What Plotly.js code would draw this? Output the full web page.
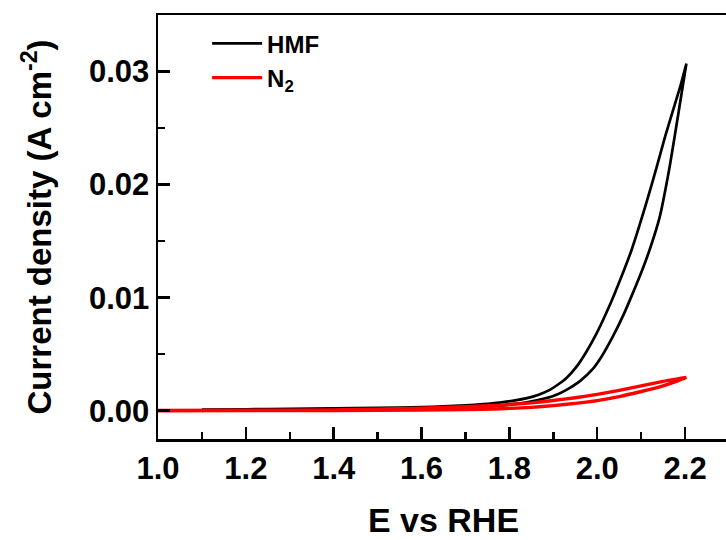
<!DOCTYPE html>
<html>
<head>
<meta charset="utf-8">
<script src="https://cdn.plot.ly/plotly-3.0.1.min.js"></script>
<style>
html,body{margin:0;padding:0;overflow:hidden;background:#fff;}
#chart{width:760px;height:540px;}
</style>
</head>
<body>
<div id="chart"></div>
<script>
// HMF cyclic voltammogram: forward (inner) branch then reverse (outer) branch
const hmfForwardE = [1.00,1.10,1.20,1.30,1.40,1.50,1.60,1.70,1.75,1.78,1.81,1.84,1.87,1.90,1.93,1.96,1.99,2.01,2.036,2.06,2.081,2.10,2.119,2.142,2.165,2.186,2.203];
const hmfForwardJ = [0.0000,0.00003,0.00006,0.00009,0.00012,0.00016,0.00022,0.0003,0.00038,0.00046,0.00058,0.00075,0.00098,0.0013,0.00185,0.0026,0.0037,0.0048,0.0066,0.0085,0.0104,0.0122,0.0142,0.0171,0.0216,0.0266,0.0307];
const hmfReverseE = [2.203,2.19,2.172,2.155,2.135,2.112,2.078,2.04,2.02,1.998,1.975,1.953,1.93,1.91,1.892,1.865,1.84,1.81,1.778,1.74,1.70,1.65,1.60,1.50,1.40,1.30,1.20,1.10];
const hmfReverseJ = [0.0307,0.0288,0.0265,0.0243,0.0215,0.0184,0.0142,0.0104,0.0086,0.0068,0.0052,0.0039,0.0029,0.0023,0.00185,0.0014,0.00112,0.0009,0.00072,0.00058,0.00047,0.00038,0.00032,0.00025,0.0002,0.00016,0.00013,0.0001];

// N2 blank cyclic voltammogram
const n2ForwardE = [1.00,1.20,1.40,1.60,1.70,1.78,1.85,1.90,1.95,2.00,2.05,2.10,2.15,2.18,2.203];
const n2ForwardJ = [0.0000,0.00001,0.00002,0.00005,0.0001,0.00018,0.0003,0.00045,0.00065,0.0009,0.00125,0.0017,0.0022,0.0026,0.00294];
const n2ReverseE = [2.203,2.18,2.15,2.10,2.05,2.00,1.95,1.90,1.85,1.78,1.70,1.60,1.50,1.40,1.20,1.00];
const n2ReverseJ = [0.00294,0.0028,0.0026,0.0022,0.0018,0.00145,0.00115,0.0009,0.0007,0.0005,0.00035,0.00022,0.00013,0.00008,0.00004,0.00002];

const seriesNames = ['HMF', 'N<sub>2</sub>'];

const hmfE = hmfForwardE.concat(hmfReverseE);
const hmfJ = hmfForwardJ.concat(hmfReverseJ);
const n2E = n2ForwardE.concat(n2ReverseE);
const n2J = n2ForwardJ.concat(n2ReverseJ);

const font = 'Liberation Sans, Arial, sans-serif';

const traces = [
  {x: hmfE, y: hmfJ, name: seriesNames[0], mode: 'lines', type: 'scatter',
   line: {color: '#000000', width: 2.7, shape: 'spline', smoothing: 0.5}},
  {x: n2E, y: n2J, name: seriesNames[1], mode: 'lines', type: 'scatter',
   line: {color: '#ff0000', width: 3.4, shape: 'spline', smoothing: 0.5}}
];

const layout = {
  width: 760, height: 540,
  margin: {l: 158, r: 31, t: 15, b: 101},
  paper_bgcolor: '#ffffff', plot_bgcolor: '#ffffff',
  showlegend: true,
  legend: {x: 0.086, y: 0.985, xanchor: 'left', yanchor: 'top',
    bgcolor: 'rgba(0,0,0,0)', borderwidth: 0,
    font: {family: font, size: 24, color: '#000', weight: 'bold'},
    itemwidth: 50},
  xaxis: {
    range: [1.0, 2.3], tick0: 1.0, dtick: 0.2, tickformat: '.1f',
    showgrid: false, zeroline: false,
    showline: true, linecolor: '#000', linewidth: 2.5, mirror: true,
    ticks: 'inside', ticklen: 12, tickwidth: 2.5, tickcolor: '#000',
    minor: {dtick: 0.1, tick0: 1.0, ticks: 'inside', ticklen: 7, tickwidth: 2.5, tickcolor: '#000', showgrid: false},
    tickfont: {family: font, size: 31, color: '#000', weight: 'bold'},
    title: {text: 'E vs RHE', font: {family: font, size: 34, color: '#000', weight: 'bold'}, standoff: 24}
  },
  yaxis: {
    range: [-0.0025, 0.035], tick0: 0, dtick: 0.01, tickformat: '.2f',
    showgrid: false, zeroline: false,
    showline: true, linecolor: '#000', linewidth: 2.5, mirror: true,
    ticks: 'inside', ticklen: 12, tickwidth: 2.5, tickcolor: '#000',
    minor: {dtick: 0.005, tick0: 0, ticks: 'inside', ticklen: 7, tickwidth: 2.5, tickcolor: '#000', showgrid: false},
    tickfont: {family: font, size: 31, color: '#000', weight: 'bold'},
    title: {text: 'Current density (A cm<sup>-2</sup>)', font: {family: font, size: 33, color: '#000', weight: 'bold'}, standoff: 28}
  }
};

Plotly.newPlot('chart', traces, layout, {displayModeBar: false, staticPlot: true});
</script>
</body>
</html>
